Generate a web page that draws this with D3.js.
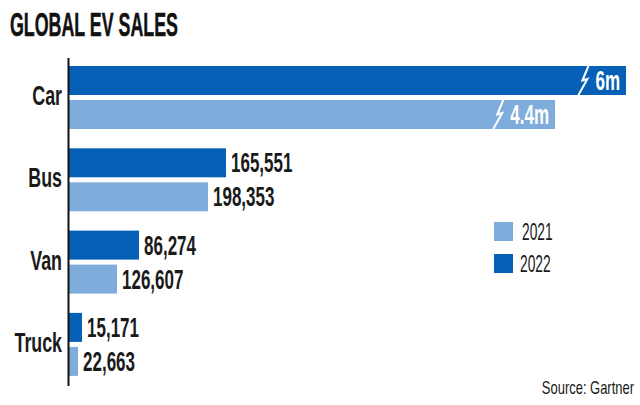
<!DOCTYPE html>
<html><head><meta charset="utf-8">
<script src="https://cdn.jsdelivr.net/npm/d3@7"></script>
<style>
html,body{margin:0;padding:0;background:#fff}
svg{display:block}
text{font-family:"Liberation Sans",sans-serif;fill:#1a1a1a}
</style></head><body>
<script>
const title = "GLOBAL EV SALES";
const source = "Source: Gartner";
const categories = ["Car","Bus","Van","Truck"];
const years = ["2022","2021"];
const legendYears = ["2021","2022"];
// Bar lengths as drawn in the picture (the car bars are cut, so this is a drawn scale, not units sold)
const drawn2022 = [557,157,70,13];
const drawn2021 = [486,139,48,9];
const labels2022 = ["6m","165,551","86,274","15,171"];
const labels2021 = ["4.4m","198,353","126,607","22,663"];
const colors = {"2022":"#0560b6","2021":"#7eaddb"};

const W=640,H=405;
const svg=d3.select("body").append("svg").attr("width",W).attr("height",H);
const x=d3.scaleLinear().domain([0,557]).range([69,626]);
const y0=d3.scaleBand().domain(categories).range([66,395.2]);
const y1=d3.scaleBand().domain(years).range([0,63]).paddingInner(0.147);
const bh=y1.bandwidth();
const SX=0.63;
const place=(px,py,sx=SX)=>`translate(${px},${py}) scale(${sx},1)`;

svg.append("text").text(title)
  .attr("transform",place(10,36,1)).attr("textLength",168).attr("lengthAdjust","spacingAndGlyphs")
  .attr("font-size",34).attr("font-weight",700).style("fill","#111").style("stroke","#111").style("stroke-width",.5);

const rows=[];
categories.forEach((c,i)=>{
  rows.push({c,i,year:"2022",v:drawn2022[i],label:labels2022[i]});
  rows.push({c,i,year:"2021",v:drawn2021[i],label:labels2021[i]});
});
const by=d=>y0(d.c)+y1(d.year);
svg.append("g").selectAll("rect").data(rows).join("rect")
  .attr("x",x(0)).attr("y",by).attr("width",d=>x(d.v)-x(0)).attr("height",bh)
  .attr("fill",d=>colors[d.year]);

svg.append("line").attr("x1",x(0)-.5).attr("x2",x(0)-.5).attr("y1",58).attr("y2",386).attr("stroke","#111").attr("stroke-width",2);

svg.append("g").selectAll("text").data(categories).join("text").text(d=>d)
  .attr("text-anchor","end")
  .attr("transform",d=>place(62,y0(d)+39,.66))
  .attr("font-size",27).attr("font-weight",700);

const lab=svg.append("g").selectAll("text").data(rows).join("text").text(d=>d.label)
  .attr("transform",d=>place(d.i===0?x(d.v)-6:x(d.v)+5,by(d)+bh/2+9.5))
  .attr("font-size",27).attr("font-weight",700)
  .attr("text-anchor",d=>d.i===0?"end":"start")
  .style("fill",d=>d.i===0?"#fff":"#1a1a1a");

lab.filter(d=>d.i===0).each(function(d){
  const s=x(d.v)-6-this.getComputedTextLength()*SX, t=by(d);
  svg.append("path")
    .attr("d",`M${s-7},${t} L${s-13},${t+14.5} L${s-8},${t+13} L${s-17},${t+bh}`)
    .attr("fill","none").attr("stroke","#fff").attr("stroke-width",2);
});

const lg=svg.append("g").selectAll("g").data(legendYears).join("g")
  .attr("transform",(d,i)=>`translate(494,${222+i*32})`);
lg.append("rect").attr("width",19).attr("height",19).attr("fill",d=>colors[d]);
lg.append("text").text(d=>d).attr("transform",d=>place(d==="2021"?28:26,18,.6)).attr("font-size",23);

svg.append("text").text(source).attr("transform",place(634,394,.72)).attr("text-anchor","end").attr("font-size",18);
</script>
</body></html>
